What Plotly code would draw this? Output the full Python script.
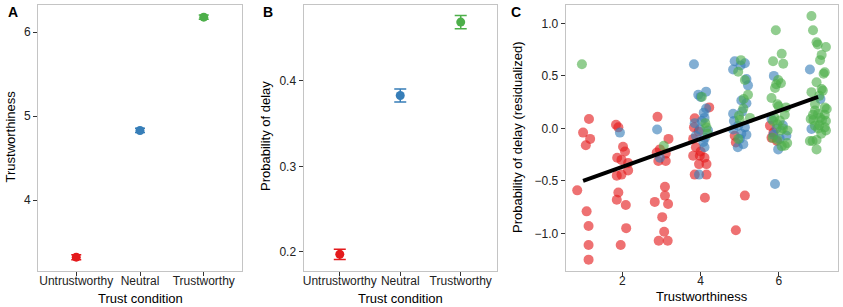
import plotly.graph_objects as go

# ---------------- data ----------------
conditions = ["Untrustworthy", "Neutral", "Trustworthy"]
colors = ["#E41A1C", "#377EB8", "#4DAF4A"]

# Panel A: mean trustworthiness per condition, with SE
trust_mean = [3.32, 4.83, 6.18]
trust_se = [0.03, 0.025, 0.025]

# Panel B: probability of delay per condition, with SE
delay_mean = [0.197, 0.383, 0.469]
delay_se = [0.006, 0.0075, 0.0078]

# Panel C: per-condition scatter (trustworthiness rating, residualized delay)
red_x = [1.15, 1.00, 1.18, 1.07, 0.85, 1.09, 1.14, 1.14, 1.14,
         1.84, 1.90, 2.02, 2.07, 1.87, 1.98, 2.15, 2.15, 1.86, 1.98, 1.90, 1.86, 2.09, 2.10, 1.96,
         2.90, 3.18, 2.96, 2.88, 3.11, 2.92, 3.11, 3.09, 3.09, 2.83, 3.17, 3.02, 3.07, 2.93, 3.16,
         4.22, 3.85, 3.83, 3.95, 3.81, 3.88, 3.81, 3.98, 4.10, 3.96, 4.15, 3.85, 4.15, 4.11, 4.00,
         4.87, 4.90, 5.13, 4.90,
         5.77, 5.81, 5.86, 5.95]
red_y = [0.09, -0.04, -0.10, -0.16, -0.59, -0.79, -0.93, -1.11, -1.25,
         0.035, 0.01, -0.175, -0.22, -0.28, -0.30, -0.33, -0.40, -0.45, -0.44, -0.61, -0.68, -0.73, -0.95, -1.11,
         0.11, -0.10, -0.20, -0.23, -0.24, -0.31, -0.31, -0.555, -0.64, -0.70, -0.72, -0.845, -0.985, -1.07, -1.07,
         0.20, 0.096, 0.01, -0.03, -0.10, -0.18, -0.26, -0.26, -0.28, -0.34, -0.34, -0.44, -0.44, -0.66, -0.22,
         -0.07, -0.135, -0.64, -0.97,
         0.026, -0.09, -0.04, -0.12]

blue_x = [1.94,
          2.89, 2.96,
          3.83, 3.94, 4.14, 4.14, 4.08, 4.10, 4.03, 3.85, 3.98, 4.19, 3.88, 4.11, 4.07, 4.10, 3.96, 4.00,
          4.87, 5.13, 4.83, 5.02, 5.17, 5.21, 5.04, 5.17, 4.83, 5.06, 4.85, 4.96, 5.13, 4.83, 5.04, 5.17,
          5.00, 5.09, 4.95,
          5.87, 5.81, 5.94, 6.19, 5.86, 6.02, 5.98, 5.90, 6.10,
          6.79, 7.06, 6.83]
blue_y = [-0.04,
          -0.01, -0.28,
          0.61, 0.32, 0.35, 0.19, 0.15, 0.10, 0.07, 0.05, -0.01, -0.02, -0.07, -0.09, -0.13, -0.18, -0.44, 0.30,
          0.64, 0.62, 0.56, 0.60, 0.47, 0.41, 0.265, 0.24, 0.14, 0.16, 0.07, 0.026, 0.01, -0.01, -0.05, -0.06,
          -0.10, -0.15, -0.18,
          0.50, 0.09, 0.0, -0.07, -0.06, -0.10, -0.20, -0.53, 0.03,
          0.56, 0.28, -0.006]

green_x = [0.97,
           3.06,
           4.03, 4.15, 4.12, 4.18,
           5.03, 4.96, 5.13, 5.21, 5.09, 5.26, 5.00, 4.96, 5.10, 4.98,
           5.92, 6.07, 5.85, 6.11, 5.98, 6.05, 5.93, 5.90, 5.81, 5.96, 6.18, 5.99, 6.15, 5.88, 6.02, 5.85,
           5.96, 6.05, 5.84, 6.15, 6.21, 5.97, 6.07, 6.22, 6.10,
           6.83, 6.87, 6.96, 6.99, 7.20, 7.09, 7.05, 7.17, 7.14, 6.96, 7.09, 6.83, 7.12, 7.03, 6.92, 7.17,
           7.22, 6.92, 7.00, 6.81, 6.87, 7.17, 7.05, 6.88, 7.10, 7.20, 6.92, 7.03, 7.17, 7.00, 7.20, 6.86,
           6.96, 6.96, 6.79, 7.08]
green_y = [0.61,
           -0.165,
           0.30, 0.01, 0.05, -0.05,
           0.65, 0.54, 0.46, 0.32, 0.19, 0.10, 0.08, -0.10, 0.28, 0.12,
           0.935, 0.71, 0.64, 0.615, 0.46, 0.43, 0.42, 0.385, 0.29, 0.23, 0.20, 0.21, 0.13, 0.105, 0.074, 0.07,
           0.04, -0.02, -0.09, -0.165, -0.14, -0.11, -0.17, -0.02, 0.00,
           1.07, 0.935, 0.82, 0.80, 0.775, 0.70, 0.65, 0.535, 0.52, 0.44, 0.375, 0.345, 0.36, 0.31, 0.23, 0.20,
           0.185, 0.17, 0.14, 0.09, 0.13, 0.13, 0.10, 0.08, 0.08, 0.07, 0.026, 0.03, 0.01, 0.00, -0.02, -0.12,
           -0.11, -0.20, -0.12, -0.05]

# regression line (trustworthiness -> residualized delay)
fit_x = [1.0, 7.0]
fit_y = [-0.50, 0.30]

# ---------------- figure ----------------
W, H = 843, 307
FONT = "Liberation Sans, Arial, Helvetica, sans-serif"

def px(x):
    return x / W

def py(y):
    return 1 - y / H

ybot, ytop = py(271), py(5)

fig = go.Figure()

# Panel A
for i, c in enumerate(conditions):
    fig.add_trace(go.Scatter(
        x=[c], y=[trust_mean[i]], mode="markers",
        marker=dict(color=colors[i], size=9),
        error_y=dict(type="data", array=[trust_se[i]], color=colors[i], width=5, thickness=1.5),
        xaxis="x", yaxis="y", showlegend=False))

# Panel B
for i, c in enumerate(conditions):
    fig.add_trace(go.Scatter(
        x=[c], y=[delay_mean[i]], mode="markers",
        marker=dict(color=colors[i], size=9),
        error_y=dict(type="data", array=[delay_se[i]], color=colors[i], width=6, thickness=1.5),
        xaxis="x2", yaxis="y2", showlegend=False))

# Panel C
for xs, ys, col in [(red_x, red_y, colors[0]), (blue_x, blue_y, colors[1]), (green_x, green_y, colors[2])]:
    fig.add_trace(go.Scatter(
        x=xs, y=ys, mode="markers",
        marker=dict(color=col, size=10, opacity=0.62, line=dict(width=0)),
        xaxis="x3", yaxis="y3", showlegend=False))

fig.add_trace(go.Scatter(
    x=fit_x, y=fit_y, mode="lines", line=dict(color="black", width=4),
    xaxis="x3", yaxis="y3", showlegend=False))

axis_common = dict(
    showgrid=False, zeroline=False, showline=True, mirror=True,
    linecolor="#c4c4c4", linewidth=1,
    ticks="outside", ticklen=4, tickcolor="#333333", tickwidth=1,
    tickfont=dict(family=FONT, size=12, color="#222222"),
)
xaxis_extra = dict(ticklabelstandoff=-5)

fig.update_layout(
    width=W, height=H,
    margin=dict(l=0, r=0, t=0, b=0),
    paper_bgcolor="white", plot_bgcolor="white",
    font=dict(family=FONT, color="black"),
    xaxis=dict(domain=[px(38), px(242)], type="category",
               categoryorder="array", categoryarray=conditions,
               range=[-0.6, 2.6], anchor="y", **axis_common, **xaxis_extra),
    yaxis=dict(domain=[ybot, ytop], range=[3.155, 6.325],
               tickvals=[4, 5, 6], anchor="x", **axis_common),
    xaxis2=dict(domain=[px(303.5), px(497)], type="category",
                categoryorder="array", categoryarray=conditions,
                range=[-0.6, 2.6], anchor="y2", **axis_common, **xaxis_extra),
    yaxis2=dict(domain=[ybot, ytop], range=[0.1774, 0.489],
                tickvals=[0.2, 0.3, 0.4], tickformat=".1f", anchor="x2", **axis_common),
    xaxis3=dict(domain=[px(565.7), px(837.7)], range=[0.556, 7.5],
                tickvals=[2, 4, 6], anchor="y3", **axis_common, **xaxis_extra),
    yaxis3=dict(domain=[ybot, ytop], range=[-1.358, 1.175],
                tickvals=[-1.0, -0.5, 0.0, 0.5, 1.0], tickformat=".1f", anchor="x3", **axis_common),
)

annots = [
    ("A", 12.5, 12, 0, True, 14),
    ("B", 267.5, 12, 0, True, 14),
    ("C", 515.5, 12, 0, True, 14),
    ("Trust condition", 140, 298, 0, False, 13),
    ("Trust condition", 400.5, 298, 0, False, 13),
    ("Trustworthiness", 702, 296, 0, False, 13),
    ("Trustworthiness", 9.5, 137, -90, False, 13),
    ("Probability of delay", 265, 136, -90, False, 13),
    ("Probability of delay (residualized)", 517, 138, -90, False, 13),
]
for text, x, y, ang, bold, size in annots:
    fig.add_annotation(
        text=f"<b>{text}</b>" if bold else text,
        x=px(x), y=py(y), xref="paper", yref="paper",
        xanchor="center", yanchor="middle", showarrow=False,
        textangle=ang, font=dict(family=FONT, size=size, color="black"))

fig.write_html(
    "out.html",
    config={"displayModeBar": False},
    post_script="document.body.style.margin='0';document.body.style.overflow='hidden';",
)
